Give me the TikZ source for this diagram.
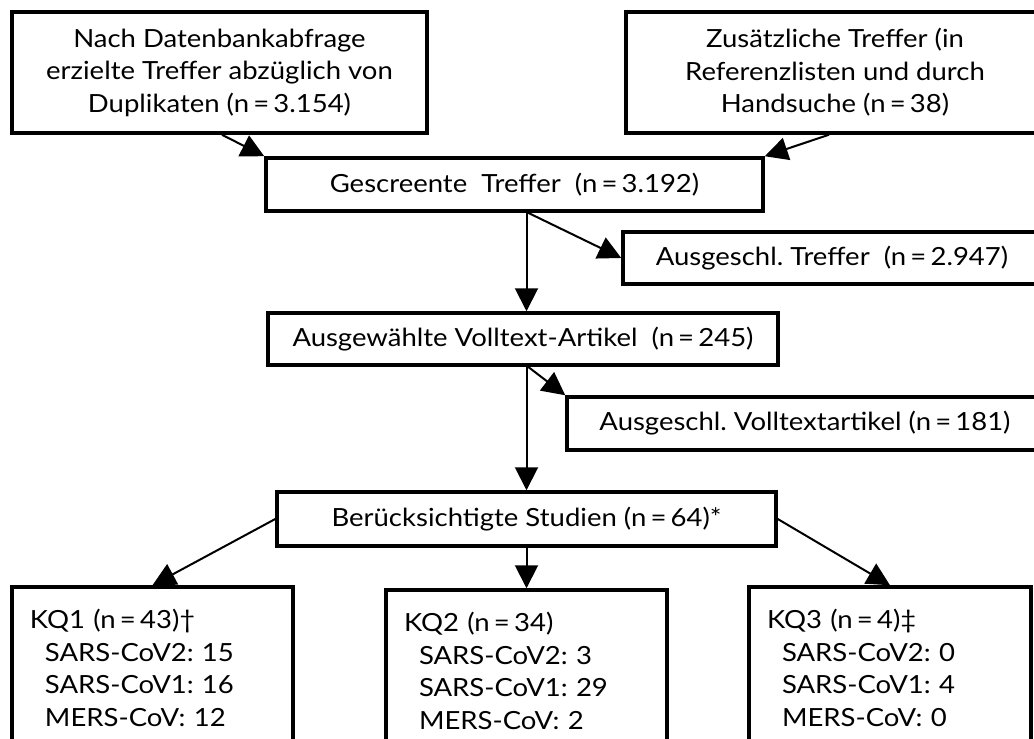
\documentclass[tikz,border=0pt]{standalone}
\usepackage{fontspec}
\setmainfont{Lato}[FakeStretch=1.1]
\usetikzlibrary{arrows.meta,backgrounds}
\frenchspacing
\begin{document}
\begin{tikzpicture}[x=1pt,y=-1pt,
  box/.style={draw, line width=3.5pt, fill=white, inner sep=0pt, align=center,
    font=\fontsize{25}{32.5}\selectfont\frenchspacing},
  kqbox/.style={box, align=left, inner xsep=18pt, text width=245pt},
  arr/.style={line width=2pt, -{Triangle[length=23pt,width=23pt]}},
]
\clip (0,0) rectangle (1034,739);
\node[box, minimum width=415pt, minimum height=121pt] (A) at (219.5,72.5)
  {Nach Datenbankabfrage\\erzielte Treffer abzüglich von\\Duplikaten (n\,=\,3.154)};
\node[box, minimum width=418pt, minimum height=121pt] (B) at (835,72.5)
  {Zusätzliche Treffer (in\\Referenzlisten und durch\\Handsuche (n\,=\,38)};
\node[box, minimum width=497pt, minimum height=53pt] (G) at (514.5,184.5)
  {Gescreente\ \ Treffer\ \ (n\,=\,3.192)};
\node[box, minimum width=418pt, minimum height=52pt] (AT) at (832,258)
  {Ausgeschl. Treffer\ \ (n\,=\,2.947)};
\node[box, minimum width=510pt, minimum height=52pt] (V) at (523,339)
  {Ausgewählte Volltext-Artikel\ \ (n\,=\,245)};
\node[box, minimum width=476pt, minimum height=53pt] (VA) at (805,423.5)
  {Ausgeschl. Volltextartikel (n\,=\,181)};
\node[box, minimum width=499pt, minimum height=54pt] (Ber) at (526.5,519)
  {Berücksichtigte Studien (n\,=\,64)*};
\node[kqbox, minimum height=162pt] (K1) at (152.5,668)
  {KQ1 (n\,=\,43)†\\\hspace*{15pt}SARS-CoV2: 15\\\hspace*{15pt}SARS-CoV1: 16\\\hspace*{15pt}MERS-CoV: 12};
\node[kqbox, minimum height=162pt] (K2) at (526.5,671)
  {KQ2 (n\,=\,34)\\\hspace*{15pt}SARS-CoV2: 3\\\hspace*{15pt}SARS-CoV1: 29\\\hspace*{15pt}MERS-CoV: 2};
\node[kqbox, minimum height=162pt, text width=246pt] (K3) at (890,668)
  {KQ3 (n\,=\,4)‡\\\hspace*{15pt}SARS-CoV2: 0\\\hspace*{15pt}SARS-CoV1: 4\\\hspace*{15pt}MERS-CoV: 0};
\begin{pgfonlayer}{background}
\draw[arr] ([xshift=2.5pt]A.south) -- (G.north west);
\draw[arr] ([xshift=-6pt]B.south) -- (G.north east);
\draw[arr] (G.south -| Ber.north) -- (V.north -| Ber.north);
\draw[arr] ([xshift=1.5pt]G.south -| Ber.north) -- (AT.west);
\draw[arr] (V.south -| Ber.north) -- (Ber.north);
\draw[arr] ([xshift=1.5pt]V.south -| Ber.north) -- (VA.north west);
\draw[arr] (Ber.west) -- (K1.north);
\draw[arr] (Ber.south) -- (K2.north);
\draw[arr] (Ber.east) -- (K3.north);
\end{pgfonlayer}
\end{tikzpicture}
\end{document}
